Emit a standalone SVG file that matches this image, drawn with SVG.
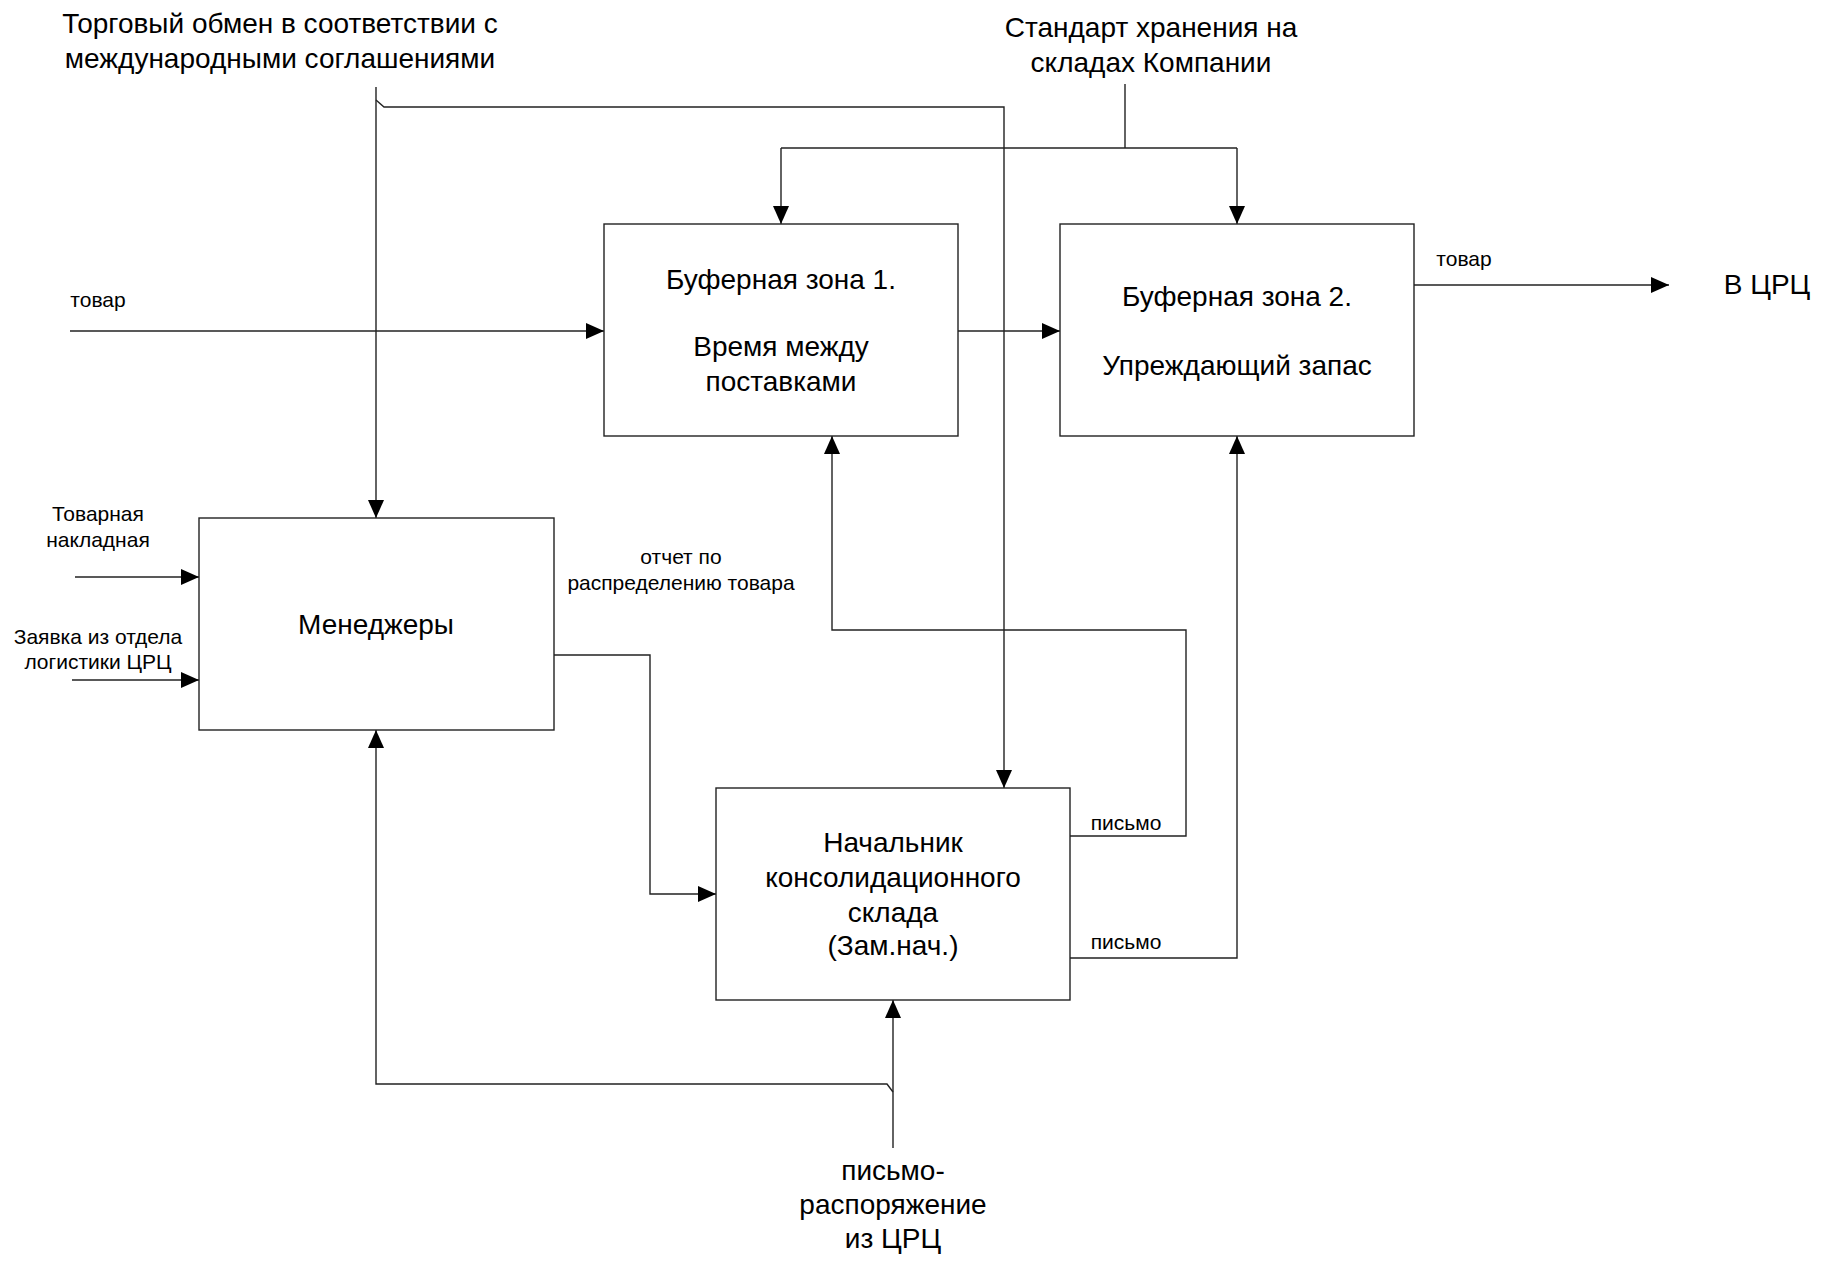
<svg xmlns="http://www.w3.org/2000/svg" width="1828" height="1268" viewBox="0 0 1828 1268">
<style>
.box{fill:#fff;stroke:#222;stroke-width:1.4}
.c{fill:none;stroke:#222;stroke-width:1.4}
.t{font-family:"Liberation Sans",Arial,sans-serif;font-size:28px;fill:#000;text-anchor:middle}
.s{font-family:"Liberation Sans",Arial,sans-serif;font-size:21px;fill:#000;text-anchor:middle}
</style>
<defs>
<marker id="ah" viewBox="0 0 18 16" refX="18" refY="8" markerWidth="18" markerHeight="16" orient="auto" markerUnits="userSpaceOnUse"><path d="M0,0 L18,8 L0,16 z" fill="#000"/></marker>
</defs>
<rect width="1828" height="1268" fill="#fff"/>
<g id="connectors">
<path class="c" d="M376,87 V518" marker-end="url(#ah)"/>
<path class="c" d="M376,100 L384,107 H1004 V788" marker-end="url(#ah)"/>
<path class="c" d="M1125,84 V148"/>
<path class="c" d="M781,148 H1237"/>
<path class="c" d="M781,148 V224" marker-end="url(#ah)"/>
<path class="c" d="M1237,148 V224" marker-end="url(#ah)"/>
<path class="c" d="M70,331 H604" marker-end="url(#ah)"/>
<path class="c" d="M958,331 H1060" marker-end="url(#ah)"/>
<path class="c" d="M1414,285 H1669" marker-end="url(#ah)"/>
<path class="c" d="M75,577 H199" marker-end="url(#ah)"/>
<path class="c" d="M72,680 H199" marker-end="url(#ah)"/>
<path class="c" d="M554,655 H650 V894 H716" marker-end="url(#ah)"/>
<path class="c" d="M1070,836 H1186 V630 H832 V436" marker-end="url(#ah)"/>
<path class="c" d="M1070,958 H1237 V436" marker-end="url(#ah)"/>
<path class="c" d="M893,1148 V1000" marker-end="url(#ah)"/>
<path class="c" d="M893,1092 L887,1084 H376 V730" marker-end="url(#ah)"/>
</g>
<g id="node-b1">
<rect class="box" x="604" y="224" width="354" height="212"/>
<text class="t" x="781" y="289">Буферная зона 1.</text>
<text class="t" x="781" y="356">Время между</text>
<text class="t" x="781" y="391">поставками</text>
</g>
<g id="node-b2">
<rect class="box" x="1060" y="224" width="354" height="212"/>
<text class="t" x="1237" y="306">Буферная зона 2.</text>
<text class="t" x="1237" y="375">Упреждающий запас</text>
</g>
<g id="node-m">
<rect class="box" x="199" y="518" width="355" height="212"/>
<text class="t" x="376" y="634">Менеджеры</text>
</g>
<g id="node-n">
<rect class="box" x="716" y="788" width="354" height="212"/>
<text class="t" x="893" y="852">Начальник</text>
<text class="t" x="893" y="887">консолидационного</text>
<text class="t" x="893" y="922">склада</text>
<text class="t" x="893" y="955">(Зам.нач.)</text>
</g>
<g id="labels">
<text class="t" x="280" y="33">Торговый обмен в соответствии с</text>
<text class="t" x="280" y="68">международными соглашениями</text>
<text class="t" x="1151" y="37">Стандарт хранения на</text>
<text class="t" x="1151" y="72">складах Компании</text>
<text class="s" x="98" y="307">товар</text>
<text class="s" x="1464" y="266">товар</text>
<text class="t" x="1767" y="294">В ЦРЦ</text>
<text class="s" x="98" y="521">Товарная</text>
<text class="s" x="98" y="547">накладная</text>
<text class="s" x="98" y="644">Заявка из отдела</text>
<text class="s" x="98" y="669">логистики ЦРЦ</text>
<text class="s" x="681" y="564">отчет по</text>
<text class="s" x="681" y="590">распределению товара</text>
<text class="s" x="1126" y="830">письмо</text>
<text class="s" x="1126" y="949">письмо</text>
<text class="t" x="893" y="1180">письмо-</text>
<text class="t" x="893" y="1214">распоряжение</text>
<text class="t" x="893" y="1248">из ЦРЦ</text>
</g>
</svg>
